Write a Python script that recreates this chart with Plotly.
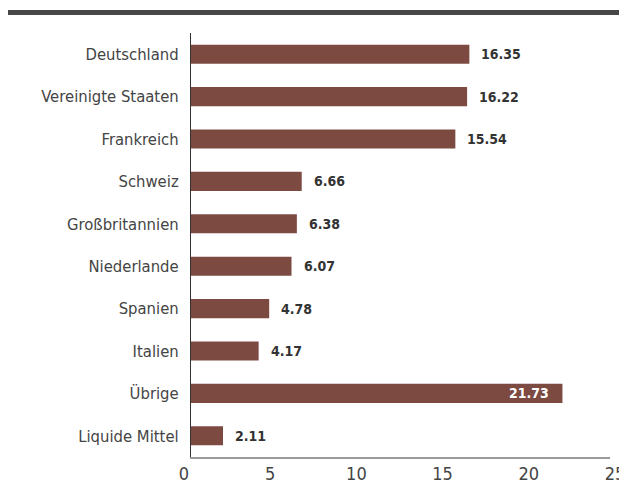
import plotly.graph_objects as go

categories = ["Deutschland", "Vereinigte Staaten", "Frankreich", "Schweiz", "Großbritannien",
              "Niederlande", "Spanien", "Italien", "Übrige", "Liquide Mittel"]
values = [16.35, 16.22, 15.54, 6.66, 6.38, 6.07, 4.78, 4.17, 21.73, 2.11]
tick_values = [0, 5, 10, 15, 20, 25]
tick_labels = ["0", "5", "10", "15", "20", "25"]
inside_labels = ["Übrige"]

BAR = "#7d4a42"
FONT = "DejaVu Sans Condensed, Liberation Sans Narrow, Roboto, sans-serif"

# the page body adds an 8px margin; figure sized so the page does not scroll
OFF = 8
W, H = 627 - OFF, 472
TICK0, TICK25 = 184 - OFF, 615 - OFF          # tick axis span (page px minus offset)
ML = TICK0
MR = W - TICK25
MT = 33 - OFF
MB = H - (457 - OFF)
plot_w = W - ML - MR

# bar axis: zero at 186.5 px, 17.3 px per unit, visible from 191 to 610 px
BAR0 = 186.5 - OFF
BAR_SCALE = 17.3
bar_left_px = 191 - OFF
bar_right_px = 610 - OFF

fig = go.Figure()
fig.add_trace(go.Bar(
    x=values, y=categories, orientation="h",
    marker=dict(color=BAR, line=dict(width=0)),
    width=0.45, hoverinfo="skip", xaxis="x", yaxis="y",
))
# helper trace binding the tick axis
fig.add_trace(go.Scatter(
    x=values, y=categories, mode="markers", marker=dict(opacity=0),
    hoverinfo="skip", xaxis="x2", yaxis="y", showlegend=False,
))

annotations = []
for c, v in zip(categories, values):
    inside = c in inside_labels
    annotations.append(dict(
        x=v, y=c, xref="x", yref="y", text=f"{v:.2f}",
        showarrow=False,
        xanchor="right" if inside else "left",
        xshift=-11 if inside else 10,
        font=dict(family=FONT, size=14, color="#ffffff" if inside else "#333333", weight="bold"),
    ))

d0 = (bar_left_px - ML) / plot_w
d1 = (bar_right_px - ML) / plot_w
r0 = (bar_left_px - BAR0) / BAR_SCALE
r1 = (bar_right_px - BAR0) / BAR_SCALE

top_y = 1 + (MT - (12.5 - OFF)) / (H - MT - MB)
fig.add_shape(type="line", xref="paper", yref="paper",
              x0=-ML / plot_w, x1=(W - ML) / plot_w, y0=top_y, y1=top_y,
              line=dict(color="#474747", width=5))

n = len(categories)
fig.update_layout(
    width=W, height=H,
    margin=dict(l=ML, r=MR, t=MT, b=MB, autoexpand=False),
    paper_bgcolor="white", plot_bgcolor="rgba(0,0,0,0)",
    showlegend=False,
    annotations=annotations,
    xaxis=dict(domain=[d0, d1], range=[r0, r1], showgrid=False, zeroline=False,
               showline=True, linecolor="#9a9a9a", linewidth=1.5, showticklabels=False,
               ticks="", fixedrange=True, automargin=False),
    xaxis2=dict(domain=[0, 1], range=[0, 25], anchor="y", side="bottom",
                showgrid=False, zeroline=False, showline=False, ticks="", automargin=False,
                tickvals=tick_values, ticktext=tick_labels, ticklabeloverflow="allow",
                ticklabelstandoff=4,
                tickfont=dict(family=FONT, size=18, color="#444444")),
    yaxis=dict(range=[n - 0.5, -0.5], showgrid=False, zeroline=False, automargin=False,
               showline=True, linecolor="#333333", linewidth=1, ticks="",
               ticklabelstandoff=8,
               tickfont=dict(family=FONT, size=16.5, color="#444444")),
)

fig.write_html("out.html")
